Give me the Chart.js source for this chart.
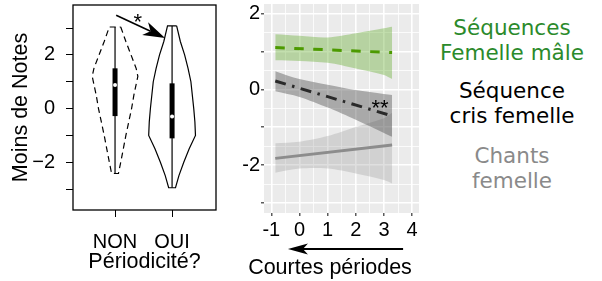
<!DOCTYPE html>
<html><head><meta charset="utf-8">
<script src="https://cdn.jsdelivr.net/npm/chart.js@4.4.1/dist/chart.umd.min.js"></script>
<style>
html,body{margin:0;padding:0;background:#fff;width:602px;height:281px;overflow:hidden;}
#c1{position:absolute;left:0;top:0;}
#c2{position:absolute;left:241px;top:0;}
.leg{position:absolute;left:430px;width:164px;text-align:center;font-family:'DejaVu Sans';font-size:21.5px;line-height:25px;white-space:nowrap;}
</style></head><body>
<canvas id="c1" width="230" height="281"></canvas>
<canvas id="c2" width="189" height="281"></canvas>
<div class="leg" style="top:14.5px;color:#2b8a2b">Séquences<br>Femelle mâle</div>
<div class="leg" style="top:77.5px;color:#000">Séquence<br>cris femelle</div>
<div class="leg" style="top:142.5px;color:#8a8a8a">Chants<br>femelle</div>
<script>
// ---------- LEFT PANEL DATA (violin + box plots) ----------
const categories = ['NON', 'OUI'];
const nonViolinY = [3.04, 2.5, 2.0, 1.5, 1.2, 0.5, 0, -1, -2, -2.42];
const nonViolinW = [0.10, 0.19, 0.28, 0.37, 0.40, 0.33, 0.29, 0.19, 0.10, 0.06];
const ouiViolinY = [3.08, 2.5, 2.0, 1.5, 1.0, 0, -0.5, -1, -1.5, -2, -2.5, -2.95];
const ouiViolinW = [0.08, 0.145, 0.22, 0.28, 0.33, 0.38, 0.40, 0.41, 0.30, 0.205, 0.12, 0.06];
const boxMin = [-2.42, -2.95];
const boxQ1 = [-0.28, -1.11];
const boxMedian = [0.88, -0.30];
const boxQ3 = [1.50, 0.94];
const boxMax = [3.04, 3.08];
const leftYTicks = [-3, -2, -1, 0, 1, 2, 3];
const leftYLabels = ['', '\u22122', '', '0', '', '2', ''];
const sigArrowFrom = [1.02, 3.48];
const sigArrowTo = [1.877, 2.63];
const sigStarPos = [1.40, 3.37];

// ---------- RIGHT PANEL DATA (linear fits + confidence bands) ----------
const fitX = [-0.86, 3.29];
const bandX = [-0.86, 0, 1, 2, 3, 3.29];
const maleFit = [1.10, 0.97];
const maleUpper = [1.45, 1.41, 1.37, 1.48, 1.61, 1.65];
const maleLower = [0.77, 0.75, 0.70, 0.55, 0.38, 0.27];
const crisFit = [0.22, -0.70];
const crisUpper = [0.48, 0.27, 0.12, -0.02, -0.12, -0.15];
const crisLower = [-0.05, -0.20, -0.48, -0.80, -1.15, -1.25];
const chantsFit = [-1.82, -1.47];
const chantsUpper = [-1.42, -1.38, -1.23, -0.99, -0.76, -0.62];
const chantsLower = [-2.20, -2.09, -2.09, -2.22, -2.39, -2.48];
const rightXTicks = [-1, 0, 1, 2, 3, 4];
const rightYTicks = [-3, -2, -1, 0, 1, 2];
const rightYLabels = ['', '-2', '', '0', '', '2'];
const sigStar2Pos = [2.86, -0.39];
const periodArrowX = [3.68, -0.41]; // tail -> tip (x units)

const FONT = 'Liberation Sans';

function pts(xs, ys) { return xs.map((x, i) => ({x, y: ys[i]})); }
function violin(c, ys, ws) {
  const r = ys.map((y, i) => ({x: c + ws[i], y}));
  const l = ys.map((y, i) => ({x: c - ws[i], y})).reverse();
  return [...r, ...l, r[0]];
}
function drawArrow(ctx, x1, y1, x2, y2, len, hw, notch, lw) {
  const a = Math.atan2(y2 - y1, x2 - x1);
  const ca = Math.cos(a), sa = Math.sin(a);
  const bx = x2 - len * ca, by = y2 - len * sa;
  const nx = x2 - (len - notch) * ca, ny = y2 - (len - notch) * sa;
  ctx.save();
  ctx.strokeStyle = '#000'; ctx.fillStyle = '#000'; ctx.lineWidth = lw;
  ctx.beginPath(); ctx.moveTo(x1, y1); ctx.lineTo(nx, ny); ctx.stroke();
  ctx.beginPath();
  ctx.moveTo(x2, y2);
  ctx.lineTo(bx - hw * sa, by + hw * ca);
  ctx.lineTo(nx, ny);
  ctx.lineTo(bx + hw * sa, by - hw * ca);
  ctx.closePath(); ctx.fill();
  ctx.restore();
}
function noPad(s) { s.paddingTop = 0; s.paddingBottom = 0; s.paddingLeft = 0; s.paddingRight = 0; }

// ---------- LEFT CHART ----------
const leftDatasets = [];
const violins = [[nonViolinY, nonViolinW, [6, 4]], [ouiViolinY, ouiViolinW, []]];
categories.forEach((cat, i) => {
  const c = i + 1;
  leftDatasets.push({data: [{x: c, y: boxMedian[i]}], showLine: false, pointRadius: 2, pointBackgroundColor: '#fff', pointBorderWidth: 0, order: 0});
  leftDatasets.push({data: [{x: c, y: boxQ1[i]}, {x: c, y: boxQ3[i]}], borderColor: '#000', borderWidth: 5, borderCapStyle: 'butt', pointRadius: 0, order: 1});
  leftDatasets.push({data: [{x: c, y: boxMin[i]}, {x: c, y: boxMax[i]}], borderColor: '#000', borderWidth: 1.2, pointRadius: 0, order: 2});
  leftDatasets.push({data: violin(c, violins[i][0], violins[i][1]), borderColor: '#000', borderWidth: 1.2, borderDash: violins[i][2], pointRadius: 0, order: 3});
});

const leftPlugin = {
  id: 'leftDeco',
  afterDatasetsDraw(chart) {
    const {ctx, chartArea: a, scales: {x, y}} = chart;
    ctx.save();
    ctx.strokeStyle = '#000'; ctx.lineWidth = 1.3;
    ctx.strokeRect(a.left, a.top, a.right - a.left, a.bottom - a.top);
    ctx.restore();
    drawArrow(ctx, x.getPixelForValue(sigArrowFrom[0]), y.getPixelForValue(sigArrowFrom[1]),
      x.getPixelForValue(sigArrowTo[0]), y.getPixelForValue(sigArrowTo[1]), 22, 7, 6, 1.6);
    ctx.save();
    ctx.font = '22px "' + FONT + '"'; ctx.fillStyle = '#000';
    ctx.textAlign = 'center'; ctx.textBaseline = 'middle';
    ctx.fillText('*', x.getPixelForValue(sigStarPos[0]), y.getPixelForValue(sigStarPos[1]) + 0.22 * 22);
    ctx.restore();
  }
};

new Chart(document.getElementById('c1'), {
  type: 'line',
  data: {datasets: leftDatasets},
  options: {
    responsive: false, animation: false, devicePixelRatio: 1,
    layout: {padding: {left: 0, top: 5, right: 14, bottom: 0}},
    plugins: {legend: {display: false}, tooltip: {enabled: false}},
    elements: {line: {tension: 0, fill: false}},
    scales: {
      x: {
        type: 'linear', min: 0.263, max: 2.77,
        afterBuildTicks: s => { s.ticks = categories.map((c, i) => ({value: i + 1})); },
        afterFit: s => { s.height = 71; noPad(s); },
        ticks: {callback: v => categories[v - 1], color: '#000', padding: 13, font: {family: FONT, size: 20}, maxRotation: 0, autoSkip: false},
        grid: {drawOnChartArea: false, drawTicks: true, tickLength: 7, color: '#000', lineWidth: 1},
        border: {display: false},
        title: {display: true, text: 'Périodicité?', color: '#000', font: {family: FONT, size: 21.5}, padding: {top: 0, bottom: 5.8}}
      },
      y: {
        type: 'linear', min: -3.78, max: 3.86,
        afterBuildTicks: s => { s.ticks = leftYTicks.map(v => ({value: v})); },
        afterFit: s => { s.width = 73; noPad(s); },
        ticks: {callback: v => leftYLabels[leftYTicks.indexOf(v)], color: '#000', padding: 11, font: {family: FONT, size: 20}, autoSkip: false},
        grid: {drawOnChartArea: false, drawTicks: true, tickLength: 7, color: '#000', lineWidth: 1},
        border: {display: false},
        title: {display: true, text: 'Moins de Notes', color: '#000', font: {family: FONT, size: 21.5}, padding: {top: 8.5, bottom: 0}}
      }
    }
  },
  plugins: [leftPlugin]
});

// ---------- RIGHT CHART ----------
const GREEN = '#4c9a00';
const rightDatasets = [
  {data: pts(fitX, maleFit), borderColor: GREEN, borderWidth: 3, borderDash: [9.5, 9.5], pointRadius: 0, order: 0},
  {data: pts(fitX, crisFit), borderColor: '#2a2a2a', borderWidth: 3, borderDash: [11, 6.5, 2.5, 6.5], pointRadius: 0, order: 0},
  {data: pts(fitX, chantsFit), borderColor: '#8c8c8c', borderWidth: 3, pointRadius: 0, order: 0},
  {data: pts(bandX, maleUpper), borderWidth: 0, pointRadius: 0, fill: {target: 4}, backgroundColor: 'rgba(90,165,30,0.36)', tension: 0.3, order: 1},
  {data: pts(bandX, maleLower), borderWidth: 0, pointRadius: 0, tension: 0.3, order: 1},
  {data: pts(bandX, crisUpper), borderWidth: 0, pointRadius: 0, fill: {target: 6}, backgroundColor: 'rgba(70,70,70,0.40)', tension: 0.3, order: 1},
  {data: pts(bandX, crisLower), borderWidth: 0, pointRadius: 0, tension: 0.3, order: 1},
  {data: pts(bandX, chantsUpper), borderWidth: 0, pointRadius: 0, fill: {target: 8}, backgroundColor: 'rgba(150,150,150,0.30)', tension: 0.3, order: 1},
  {data: pts(bandX, chantsLower), borderWidth: 0, pointRadius: 0, tension: 0.3, order: 1}
];
function withMinor(majors) {
  const out = [];
  majors.forEach((v, i) => { out.push(v); if (i < majors.length - 1) out.push((v + majors[i + 1]) / 2); });
  return out;
}
const rightPlugin = {
  id: 'rightDeco',
  beforeDraw(chart) {
    const {ctx, chartArea: a} = chart;
    ctx.save(); ctx.fillStyle = '#ebebeb';
    ctx.fillRect(a.left, a.top, a.right - a.left, a.bottom - a.top);
    ctx.restore();
  },
  afterDatasetsDraw(chart) {
    const {ctx, scales: {x, y}} = chart;
    ctx.save();
    ctx.font = '22px "' + FONT + '"'; ctx.fillStyle = '#000';
    ctx.textAlign = 'center'; ctx.textBaseline = 'middle';
    ctx.fillText('**', x.getPixelForValue(sigStar2Pos[0]), y.getPixelForValue(sigStar2Pos[1]) + 0.22 * 22);
    ctx.restore();
  },
  afterDraw(chart) {
    const {ctx, chartArea: a, scales: {x}} = chart;
    const yy = a.bottom + 36;
    drawArrow(ctx, x.getPixelForValue(periodArrowX[0]), yy, x.getPixelForValue(periodArrowX[1]), yy, 20, 5.5, 5, 2);
  }
};
const isMajor = v => Number.isInteger(v);
new Chart(document.getElementById('c2'), {
  type: 'line',
  data: {datasets: rightDatasets},
  options: {
    responsive: false, animation: false, devicePixelRatio: 1,
    layout: {padding: {left: 0, top: 4, right: 11, bottom: 0}},
    plugins: {
      legend: {display: false}, tooltip: {enabled: false},
      title: {display: true, text: 'Courtes périodes', position: 'bottom', align: 'center', color: '#000',
        font: {family: FONT, size: 21.5, weight: 'normal'}, padding: {top: 0, bottom: 0}}
    },
    elements: {line: {tension: 0, fill: false}},
    scales: {
      x: {
        type: 'linear', min: -1.26, max: 4.245,
        afterBuildTicks: s => { s.ticks = withMinor(rightXTicks).map(v => ({value: v})); },
        afterFit: s => { s.height = 281 - 25.8 - 213; noPad(s); },
        ticks: {callback: v => isMajor(v) ? String(v) : '', color: '#000', padding: 2, font: {family: FONT, size: 20}, maxRotation: 0, autoSkip: false},
        grid: {color: '#fff', lineWidth: c => isMajor(c.tick.value) ? 1.6 : 0.8, tickLength: 3,
          tickColor: c => isMajor(c.tick.value) ? '#333' : 'rgba(0,0,0,0)', tickWidth: 1.2},
        border: {display: false}
      },
      y: {
        type: 'linear', min: -3.26, max: 2.25,
        afterBuildTicks: s => { s.ticks = withMinor(rightYTicks).map(v => ({value: v})); },
        afterFit: s => { s.width = 23; noPad(s); },
        ticks: {callback: v => { const i = rightYTicks.indexOf(v); return i >= 0 ? rightYLabels[i] : ''; }, color: '#000', padding: 1, font: {family: FONT, size: 20}, autoSkip: false},
        grid: {color: '#fff', lineWidth: c => isMajor(c.tick.value) ? 1.6 : 0.8, tickLength: 3,
          tickColor: c => isMajor(c.tick.value) ? '#333' : 'rgba(0,0,0,0)', tickWidth: 1.2},
        border: {display: false}
      }
    }
  },
  plugins: [rightPlugin]
});
</script>
</body></html>
